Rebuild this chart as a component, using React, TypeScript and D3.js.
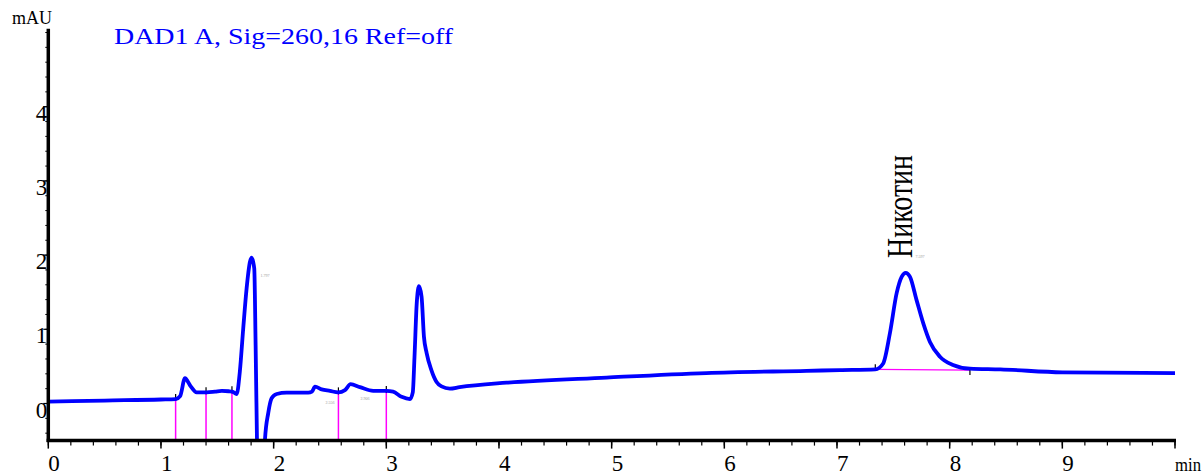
import React from 'react';
import * as d3 from 'd3';

const W = 1203;
const H = 475;

// chromatogram trace (min, mAU)
const times = [
  0, 0.5, 1.0, 1.13, 1.17, 1.213, 1.26, 1.317, 1.405, 1.48, 1.54, 1.6, 1.633, 1.672,
  1.7, 1.73, 1.76, 1.79, 1.805, 1.828, 1.84, 1.855, 1.87, 1.9, 1.923, 1.952, 1.982,
  2.027, 2.115, 2.307, 2.34, 2.367, 2.426, 2.5, 2.573, 2.633, 2.683, 2.766, 2.884,
  3.0, 3.06, 3.136, 3.21, 3.235, 3.25, 3.27, 3.29, 3.313, 3.334, 3.358, 3.4, 3.446,
  3.49, 3.564, 3.65, 4.067, 4.955, 5.84, 6.73, 7.025, 7.34, 7.41, 7.47, 7.53, 7.575,
  7.61, 7.647, 7.707, 7.766, 7.825, 7.914, 8.03, 8.18, 8.45, 9.0, 10.0,
];
const signal = [
  0.025, 0.04, 0.054, 0.06, 0.1, 0.34, 0.24, 0.15, 0.15, 0.16, 0.17, 0.165, 0.16, 0.128,
  0.43, 1.01, 1.55, 1.91, 1.965, 1.82, 0.79, -0.8, -2.0, -1.8, -0.49, -0.13, 0.07,
  0.128, 0.146, 0.146, 0.16, 0.227, 0.19, 0.17, 0.15, 0.18, 0.26, 0.22, 0.17,
  0.17, 0.16, 0.09, 0.06, 0.15, 0.62, 1.35, 1.58, 1.44, 0.9, 0.68, 0.45, 0.29,
  0.23, 0.2, 0.22, 0.28, 0.35, 0.41, 0.44, 0.45, 0.46, 0.54, 0.95, 1.49, 1.71,
  1.76, 1.71, 1.39, 1.08, 0.83, 0.63, 0.52, 0.47, 0.46, 0.42, 0.41,
];

// integration marks (pink drop lines)
const dropTimes = [1.13, 1.4, 1.63, 2.575, 3.0];
const dropLevels = [0.06, 0.15, 0.165, 0.15, 0.17];

// nicotine peak baseline
const baseTimes = [7.34, 8.18];
const baseLevels = [0.46, 0.45];

// tiny retention time labels
const rtLabels = ['1.797', '2.556', '2.906', '7.597'];
const rtTimes = [1.923, 2.5, 2.81, 7.737];
const rtLevels = [1.7, -0.01, 0.05, 1.96];

const xTickLabels = ['0', '1', '2', '3', '4', '5', '6', '7', '8', '9'];
const yTickLabels = ['0', '1', '2', '3', '4'];

const x = d3.scaleLinear().domain([0, 10]).range([48.3, 1175]);
const y = d3.scaleLinear().domain([-0.5, 5.05]).range([440.6, 28.8]);

const font = 'Liberation Serif, Times New Roman, Times, serif';
const txt = { fontFamily: font };

export default function App() {
  const pts: [number, number][] = times.map((t, i) => [t, signal[i]]);
  const line = d3.line<[number, number]>()
    .x(d => x(d[0]))
    .y(d => y(d[1]))
    .curve(d3.curveMonotoneX);

  const minorX = d3.range(0, 50.5).map(i => i * 0.2);
  const minorY = d3.range(-2, 26).map(i => i * 0.2);

  return (
    <svg width={W} height={H} style={{ position: 'absolute', left: 0, top: 0, background: '#fff' }}>
      <defs>
        <clipPath id="plot">
          <rect x={x(0)} y={0} width={x(10) - x(0) + 4} height={y(-0.5) - 1.5} />
        </clipPath>
      </defs>

      {/* y label and signal title */}
      <text x={12} y={24} style={txt} fontSize={18} fill="#000">mAU</text>
      <text x={114} y={44} style={txt} fontSize={23} fill="#0000ff"
        textLength={339} lengthAdjust="spacingAndGlyphs">DAD1 A, Sig=260,16 Ref=off</text>

      {/* pink drop lines */}
      {dropTimes.map((t, i) => (
        <g key={'d' + i}>
          <line x1={x(t)} x2={x(t)} y1={y(dropLevels[i])} y2={y(-0.5)} stroke="#ff00ff" strokeWidth={1.5} />
          <line x1={x(t)} x2={x(t)} y1={y(dropLevels[i]) - 5} y2={y(dropLevels[i]) + 2} stroke="#000" strokeWidth={1.2} />
        </g>
      ))}

      {/* nicotine baseline */}
      <line x1={x(baseTimes[0])} x2={x(baseTimes[1])} y1={y(baseLevels[0])} y2={y(baseLevels[1])}
        stroke="#ff00ff" strokeWidth={1.2} />
      <line x1={x(baseTimes[0])} x2={x(baseTimes[0])} y1={y(baseLevels[0]) - 5} y2={y(baseLevels[0])} stroke="#000" strokeWidth={1.2} />
      <line x1={x(baseTimes[1])} x2={x(baseTimes[1])} y1={y(baseLevels[1])} y2={y(baseLevels[1]) + 5} stroke="#000" strokeWidth={1.2} />

      {/* trace */}
      <path d={line(pts) || ''} fill="none" stroke="#0000ff" strokeWidth={3.8}
        strokeLinejoin="round" clipPath="url(#plot)" />

      {/* rt labels */}
      {rtLabels.map((s, i) => (
        <text key={'r' + i} x={x(rtTimes[i])} y={y(rtLevels[i])} style={txt} fontSize={4}
          fill="#999" textAnchor="middle">{s}</text>
      ))}

      {/* peak name */}
      <text transform={`translate(${x(7.6) + 7},258) rotate(-90)`} style={txt} fontSize={35}
        textLength={103} lengthAdjust="spacingAndGlyphs" fill="#000">Никотин</text>

      {/* y axis */}
      <line x1={x(0)} x2={x(0)} y1={y(5.05)} y2={y(-0.5) + 1.5} stroke="#000" strokeWidth={3.5} />
      {minorY.map((v, i) => (
        <line key={'my' + i} x1={x(0) - 3} x2={x(0)} y1={y(v)} y2={y(v)} stroke="#000" strokeWidth={1} />
      ))}
      {yTickLabels.map((s, i) => (
        <g key={'yt' + i}>
          <line x1={x(0) - 5} x2={x(0)} y1={y(i)} y2={y(i)} stroke="#000" strokeWidth={1.2} />
          <text x={x(0) - 1} y={y(i) + 14} textAnchor="end" style={txt} fontSize={23} fill="#000">{s}</text>
        </g>
      ))}

      {/* x axis */}
      <line x1={x(0) - 1.7} x2={x(10) + 1} y1={y(-0.5)} y2={y(-0.5)} stroke="#000" strokeWidth={3.5} />
      {minorX.map((t, i) => (
        <line key={'mx' + i} x1={x(t)} x2={x(t)} y1={y(-0.5)} y2={y(-0.5) + 5} stroke="#000" strokeWidth={1.2} />
      ))}
      {d3.range(0, 11).map(t => (
        <line key={'tx' + t} x1={x(t)} x2={x(t)} y1={y(-0.5)} y2={y(-0.5) + 8} stroke="#000" strokeWidth={1.5} />
      ))}
      {xTickLabels.map((s, i) => (
        <text key={'xl' + i} x={x(i)} y={471} style={txt} fontSize={23} fill="#000">{s}</text>
      ))}
      <text x={1175} y={471} style={txt} fontSize={18} textLength={26} lengthAdjust="spacingAndGlyphs" fill="#000">min</text>
    </svg>
  );
}
